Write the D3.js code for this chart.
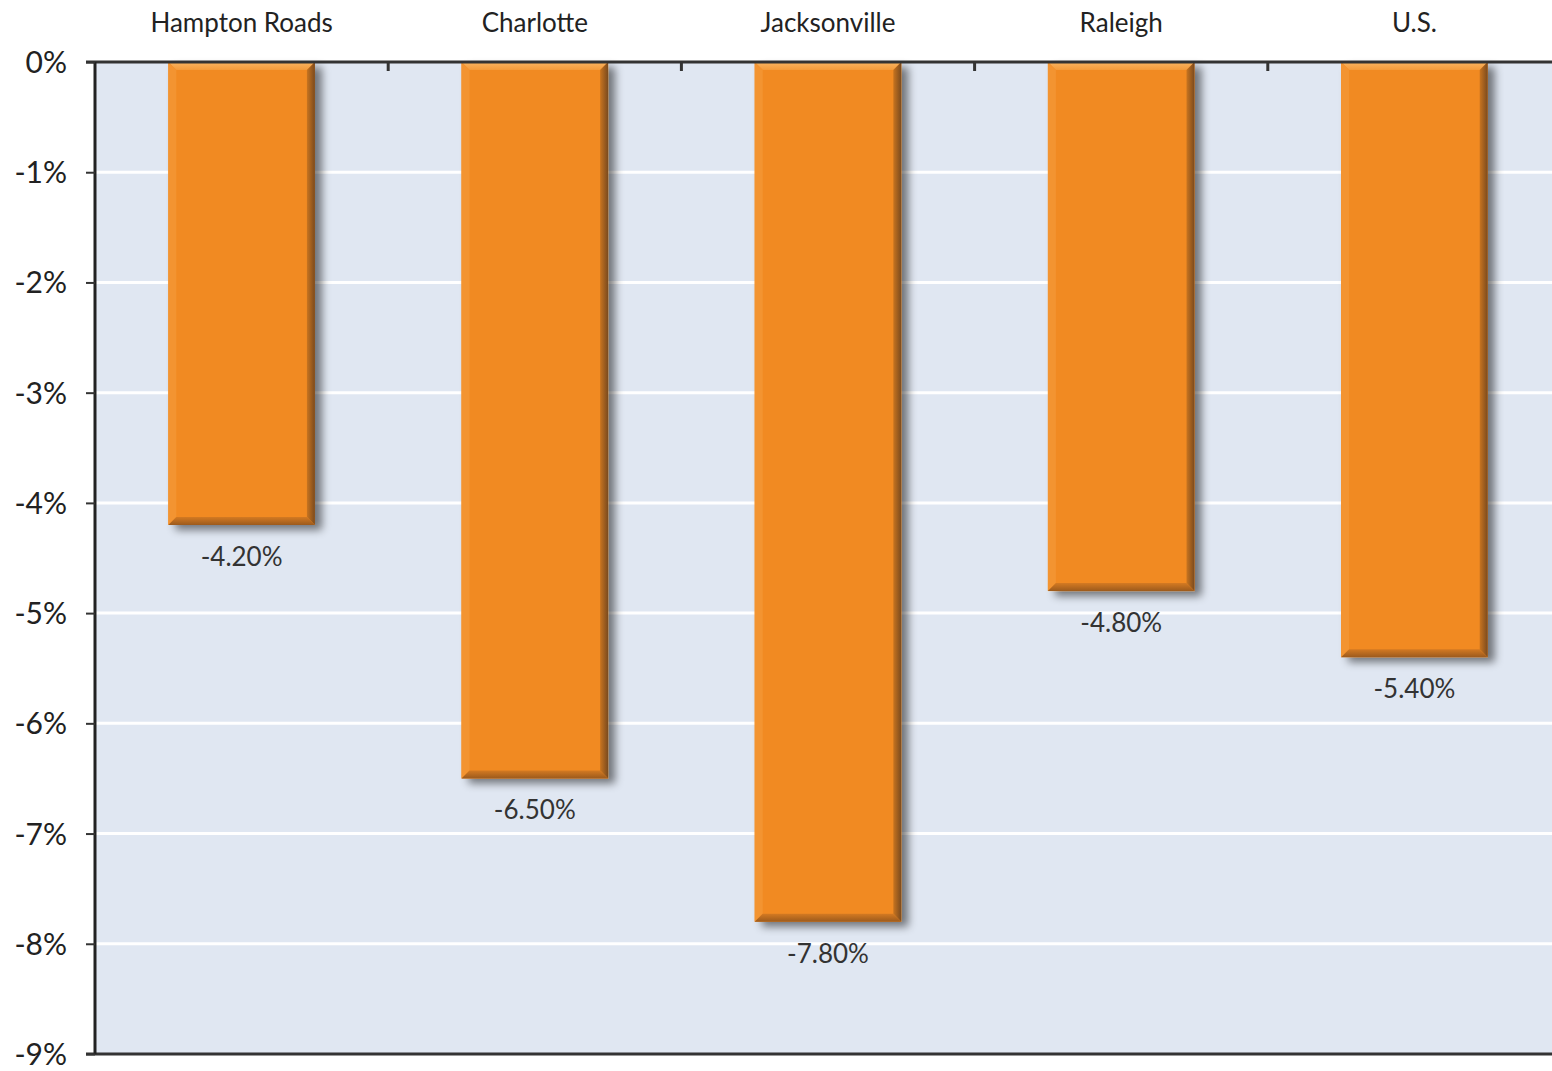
<!DOCTYPE html>
<html><head><meta charset="utf-8">
<script src="https://cdn.jsdelivr.net/npm/d3@7"></script>
<style>html,body{margin:0;padding:0;background:#fff;}svg{display:block;}</style>
</head><body>
<svg id="chart" width="1552" height="1071"></svg>
<script>
const categories = ["Hampton Roads", "Charlotte", "Jacksonville", "Raleigh", "U.S."];
const values = [-4.2, -6.5, -7.8, -4.8, -5.4];
const valueLabels = ["-4.20%", "-6.50%", "-7.80%", "-4.80%", "-5.40%"];
const yTicks = [0, -1, -2, -3, -4, -5, -6, -7, -8, -9];

(function () {
const svg = d3.select("#chart");
const pLeft = 95, pTop = 62, pBottom = 1054, pRight = 1561;
const x = d3.scaleBand().domain(categories).range([pLeft, pRight]).paddingInner(0.5).paddingOuter(0.25);
const y = d3.scaleLinear().domain([0, -9]).range([pTop, pBottom]);
const font = "Lato, 'Open Sans', sans-serif";

const defs = svg.append("defs");
const f = defs.append("filter").attr("id", "shadow").attr("x", "-20%").attr("y", "-20%").attr("width", "150%").attr("height", "150%");
f.append("feGaussianBlur").attr("in", "SourceAlpha").attr("stdDeviation", 4).attr("result", "b");
f.append("feOffset").attr("in", "b").attr("dx", 7).attr("dy", 5).attr("result", "o");
f.append("feComponentTransfer").attr("in", "o").attr("result", "s").append("feFuncA").attr("type", "linear").attr("slope", 0.5);
const m = f.append("feMerge");
m.append("feMergeNode").attr("in", "s");
m.append("feMergeNode").attr("in", "SourceGraphic");

const gR = defs.append("linearGradient").attr("id", "gRight").attr("x1", 0).attr("x2", 1).attr("y1", 0).attr("y2", 0);
gR.append("stop").attr("offset", 0).attr("stop-color", "#c8741f");
gR.append("stop").attr("offset", 1).attr("stop-color", "#7a4a1e");
const gT = defs.append("linearGradient").attr("id", "gTop").attr("x1", 0).attr("x2", 0).attr("y1", 0).attr("y2", 1);
gT.append("stop").attr("offset", 0).attr("stop-color", "#f9b562");
gT.append("stop").attr("offset", 1).attr("stop-color", "#f39a3a");
const gB = defs.append("linearGradient").attr("id", "gBot").attr("x1", 0).attr("x2", 0).attr("y1", 0).attr("y2", 1);
gB.append("stop").attr("offset", 0).attr("stop-color", "#d47a22");
gB.append("stop").attr("offset", 1).attr("stop-color", "#9c5a1c");

// plot background
svg.append("rect").attr("x", pLeft).attr("y", pTop).attr("width", 1552 - pLeft).attr("height", pBottom - pTop).attr("fill", "#e0e7f2");

// gridlines
svg.append("g").selectAll("line").data(yTicks.filter(d => d !== 0 && d !== -9)).join("line")
  .attr("x1", pLeft).attr("x2", 1552).attr("y1", d => y(d)).attr("y2", d => y(d))
  .attr("stroke", "#ffffff").attr("stroke-width", 3);

// bars
const bw = x.bandwidth();
const bars = svg.append("g").selectAll("g").data(categories.map((c, i) => ({c, v: values[i], l: valueLabels[i]}))).join("g");
bars.append("rect").attr("x", d => x(d.c)).attr("y", y(0)).attr("width", bw).attr("height", d => y(d.v) - y(0))
  .attr("fill", "#f18a22").attr("filter", "url(#shadow)");
const e = 8;
bars.append("path").attr("fill", "url(#gTop)").attr("d", d => {
  const x0 = x(d.c), x1 = x0 + bw, y0 = y(0);
  return `M${x0},${y0}L${x1},${y0}L${x1 - e},${y0 + e}L${x0 + e},${y0 + e}Z`;
});
bars.append("path").attr("fill", "#f39431").attr("d", d => {
  const x0 = x(d.c), y0 = y(0), y1 = y(d.v);
  return `M${x0},${y0}L${x0 + e},${y0 + e}L${x0 + e},${y1 - e}L${x0},${y1}Z`;
});
bars.append("path").attr("fill", "url(#gRight)").attr("d", d => {
  const x1 = x(d.c) + bw, y0 = y(0), y1 = y(d.v);
  return `M${x1},${y0}L${x1 - e},${y0 + e}L${x1 - e},${y1 - e}L${x1},${y1}Z`;
});
bars.append("path").attr("fill", "url(#gBot)").attr("d", d => {
  const x0 = x(d.c), x1 = x0 + bw, y1 = y(d.v);
  return `M${x0},${y1}L${x0 + e},${y1 - e}L${x1 - e},${y1 - e}L${x1},${y1}Z`;
});

// value labels
bars.append("text").attr("x", d => x(d.c) + bw / 2).attr("y", d => y(d.v) + 41)
  .attr("text-anchor", "middle").attr("font-family", font).attr("font-size", 26).attr("fill", "#333")
  .text(d => d.l);

// top axis (categories)
const xAxis = d3.axisTop(x).tickSize(0).tickPadding(30);
const gx = svg.append("g").attr("transform", `translate(0,${pTop})`).call(xAxis);
gx.select(".domain").remove();
gx.selectAll("text").attr("font-family", font).attr("font-size", 26).attr("fill", "#222");
svg.append("line").attr("x1", pLeft - 9).attr("x2", 1552).attr("y1", pTop).attr("y2", pTop).attr("stroke", "#333").attr("stroke-width", 3);
svg.append("g").selectAll("line").data(categories.slice(1)).join("line")
  .attr("x1", d => x(d) - (x.step() - bw) / 2).attr("x2", d => x(d) - (x.step() - bw) / 2)
  .attr("y1", pTop).attr("y2", pTop + 9).attr("stroke", "#333").attr("stroke-width", 3);

// bottom axis line
svg.append("line").attr("x1", pLeft - 9).attr("x2", 1552).attr("y1", pBottom).attr("y2", pBottom).attr("stroke", "#333").attr("stroke-width", 3);

// left axis
const yAxis = d3.axisLeft(y).tickValues(yTicks).tickSize(9).tickPadding(19).tickFormat(d => d + "%");
const gy = svg.append("g").attr("transform", `translate(${pLeft},0)`).call(yAxis);
gy.select(".domain").attr("stroke", "#222").attr("stroke-width", 3).attr("d", `M0,${pTop}V${pBottom}`);
gy.selectAll(".tick line").attr("stroke", "#333").attr("stroke-width", 2);
gy.selectAll("text").attr("font-family", font).attr("font-size", 30).attr("fill", "#222").attr("dy", "0.35em");
})();
</script>
</body></html>
